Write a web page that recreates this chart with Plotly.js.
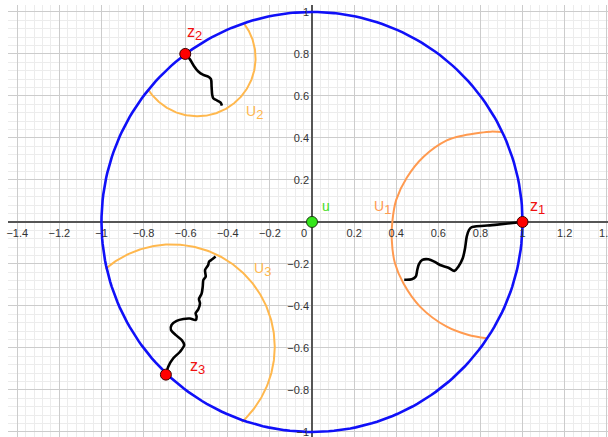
<!DOCTYPE html>
<html><head><meta charset="utf-8">
<script src="https://cdn.plot.ly/plotly-3.0.1.min.js"></script>
<style>html,body{margin:0;padding:0;background:#fff}#chart{width:608px;height:437px}</style>
</head><body><div id="chart"></div>
<script>
// ---- axes ----
const xRange = [-1.444, 1.406];
const yRange = [-1.024, 1.033];
const xTickVals = [-1.4, -1.2, -1, -0.8, -0.6, -0.4, -0.2, 0.2, 0.4, 0.6, 0.8, 1, 1.2, 1.4];
const yTickVals = [-1, -0.8, -0.6, -0.4, -0.2, 0.2, 0.4, 0.6, 0.8, 1];
const xTickText = xTickVals.map(v => String(v).replace('-', '\u2212'));
const yTickText = yTickVals.map(v => String(v).replace('-', '\u2212'));

// ---- points ----
const zLetters = ['z', 'z', 'z'];
const zSubs = ['1', '2', '3'];
const zX = [1.0, -0.602, -0.694];
const zY = [0.0, 0.800, -0.727];
const uX = [0];
const uY = [0];
const uSubs = ['1', '2', '3'];

// ---- unit circle and neighbourhood arcs (circle parameters) ----
const unitCircle = {cx: 0, cy: 0, r: 1, from: 0, to: 360};
const arcU2 = {cx: -0.545, cy: 0.780, r: 0.277, from: 37.2, to: -147.5};
const arcU3 = {cx: -0.665, cy: -0.595, r: 0.488, from: 130.4, to: -47.1};

// ---- U1 arc traced ----
const u1X = [0.901, 0.850, 0.798, 0.720, 0.640, 0.530, 0.450, 0.400, 0.382, 0.379, 0.394, 0.434, 0.513, 0.640, 0.740, 0.830];
const u1Y = [0.428, 0.430, 0.425, 0.412, 0.388, 0.310, 0.210, 0.105, 0.005, -0.086, -0.197, -0.292, -0.403, -0.499, -0.537, -0.554];

// ---- paths (traced) ----
const path1X = [1.000, 0.869, 0.759, 0.746, 0.735, 0.727, 0.716, 0.695, 0.676, 0.648, 0.608, 0.581, 0.553, 0.524, 0.508, 0.500, 0.493, 0.474, 0.438];
const path1Y = [0.000, -0.014, -0.025, -0.038, -0.070, -0.125, -0.173, -0.213, -0.233, -0.218, -0.205, -0.189, -0.178, -0.181, -0.201, -0.229, -0.260, -0.273, -0.275];

const path2X = [-0.602, -0.580, -0.561, -0.540, -0.516, -0.493, -0.480, -0.477, -0.474, -0.469, -0.450, -0.434, -0.428];
const path2Y = [0.803, 0.775, 0.743, 0.716, 0.700, 0.692, 0.680, 0.644, 0.605, 0.589, 0.578, 0.568, 0.554];

const path3X = [-0.694, -0.683, -0.659, -0.627, -0.607, -0.619, -0.648, -0.670, -0.667, -0.643, -0.611, -0.580, -0.553, -0.548, -0.553, -0.540, -0.532, -0.537, -0.524, -0.519, -0.516, -0.505, -0.508, -0.493, -0.489, -0.474, -0.458];
const path3Y = [-0.729, -0.689, -0.649, -0.618, -0.586, -0.562, -0.538, -0.514, -0.490, -0.471, -0.462, -0.460, -0.467, -0.451, -0.435, -0.416, -0.387, -0.368, -0.340, -0.308, -0.276, -0.260, -0.229, -0.205, -0.189, -0.178, -0.165];

function arcPoints(a) {
  const n = 240, xs = [], ys = [];
  for (let i = 0; i <= n; i++) {
    const t = (a.from + (a.to - a.from) * i / n) * Math.PI / 180;
    xs.push(a.cx + a.r * Math.cos(t));
    ys.push(a.cy + a.r * Math.sin(t));
  }
  return {x: xs, y: ys};
}

const uc = arcPoints(unitCircle), a2 = arcPoints(arcU2), a3 = arcPoints(arcU3);
const BLUE = '#1010f8', OR1 = '#ff9a50', OR2 = '#ffb84e';

const traces = [
  {x: u1X, y: u1Y, mode: 'lines', line: {color: OR1, width: 2, shape: 'spline'}, hoverinfo: 'skip'},
  {x: a2.x, y: a2.y, mode: 'lines', line: {color: OR2, width: 2}, hoverinfo: 'skip'},
  {x: a3.x, y: a3.y, mode: 'lines', line: {color: OR2, width: 2}, hoverinfo: 'skip'},
  {x: uc.x, y: uc.y, mode: 'lines', line: {color: BLUE, width: 2.6}, hoverinfo: 'skip'},
  {x: path1X, y: path1Y, mode: 'lines', line: {color: '#000', width: 2.6, shape: 'spline', smoothing: 0.8}, hoverinfo: 'skip'},
  {x: path2X, y: path2Y, mode: 'lines', line: {color: '#000', width: 2.6, shape: 'spline', smoothing: 0.8}, hoverinfo: 'skip'},
  {x: path3X, y: path3Y, mode: 'lines', line: {color: '#000', width: 2.6, shape: 'spline', smoothing: 0.8}, hoverinfo: 'skip'},
  {x: zX, y: zY, mode: 'markers', marker: {color: '#ff0000', size: 11, line: {color: '#3a0000', width: 1}}, hoverinfo: 'skip'},
  {x: uX, y: uY, mode: 'markers', marker: {color: '#33e61a', size: 11, line: {color: '#1a3a10', width: 1}}, hoverinfo: 'skip'}
];

const FONT = 'Liberation Sans, Arial, sans-serif';
function sub(letter, s, subSize) {
  return letter + '<sub><span style="font-size:' + subSize + 'px">' + s + '</span></sub>';
}
function lab(text, x, y, color, size) {
  return {text: text, x: x, y: y, xref: 'x', yref: 'y', showarrow: false,
          xanchor: 'center', yanchor: 'middle', font: {family: FONT, size: size, color: color}};
}
const ZRED = '#f01010';
const annotations = [
  lab(sub(zLetters[0], zSubs[0], 13), 1.069, 0.072, ZRED, 16),
  lab(sub(zLetters[1], zSubs[1], 13), -0.556, 0.900, ZRED, 16),
  lab(sub(zLetters[2], zSubs[2], 13), -0.546, -0.692, ZRED, 16),
  lab('u', 0.0665, 0.075, '#44dd22', 14),
  lab(sub('U', uSubs[0], 13), 0.337, 0.068, OR1, 14),
  lab(sub('U', uSubs[1], 13), -0.272, 0.520, OR2, 14),
  lab(sub('U', uSubs[2], 13), -0.237, -0.226, OR2, 14),
  {text: '0', x: 0, y: 0, xref: 'x', yref: 'y', showarrow: false, xanchor: 'right', yanchor: 'top',
   xshift: -3, yshift: -3, font: {family: FONT, size: 11, color: '#333'}}
];

const xZeroFrac = (0 - xRange[0]) / (xRange[1] - xRange[0]);
const yZeroFrac = (0 - yRange[0]) / (yRange[1] - yRange[0]);

const axisCommon = {
  showgrid: true, gridcolor: '#cccccc', gridwidth: 1,
  zeroline: true, zerolinecolor: '#555', zerolinewidth: 1.2,
  showline: false, ticks: '', tickfont: {family: FONT, size: 11, color: '#333'},
  fixedrange: true, anchor: 'free', ticklabeloverflow: 'allow'
};

const layout = {
  width: 608, height: 437,
  margin: {l: 8, r: 0, t: 5, b: 0},
  paper_bgcolor: '#fff', plot_bgcolor: '#fff',
  showlegend: false,
  xaxis: Object.assign({}, axisCommon, {
    range: xRange, tickmode: 'array', tickvals: xTickVals, ticktext: xTickText,
    position: yZeroFrac, ticklabelstandoff: 3,
    minor: {tickmode: 'linear', tick0: 0, dtick: 0.04, showgrid: true, gridcolor: '#ececec', gridwidth: 1}
  }),
  yaxis: Object.assign({}, axisCommon, {
    range: yRange, tickmode: 'array', tickvals: yTickVals, ticktext: yTickText,
    position: xZeroFrac, ticklabelstandoff: 3,
    minor: {tickmode: 'linear', tick0: 0, dtick: 0.04, showgrid: true, gridcolor: '#ececec', gridwidth: 1}
  }),
  annotations: annotations
};

Plotly.newPlot('chart', traces, layout, {staticPlot: true, displayModeBar: false});
</script>
</body></html>
